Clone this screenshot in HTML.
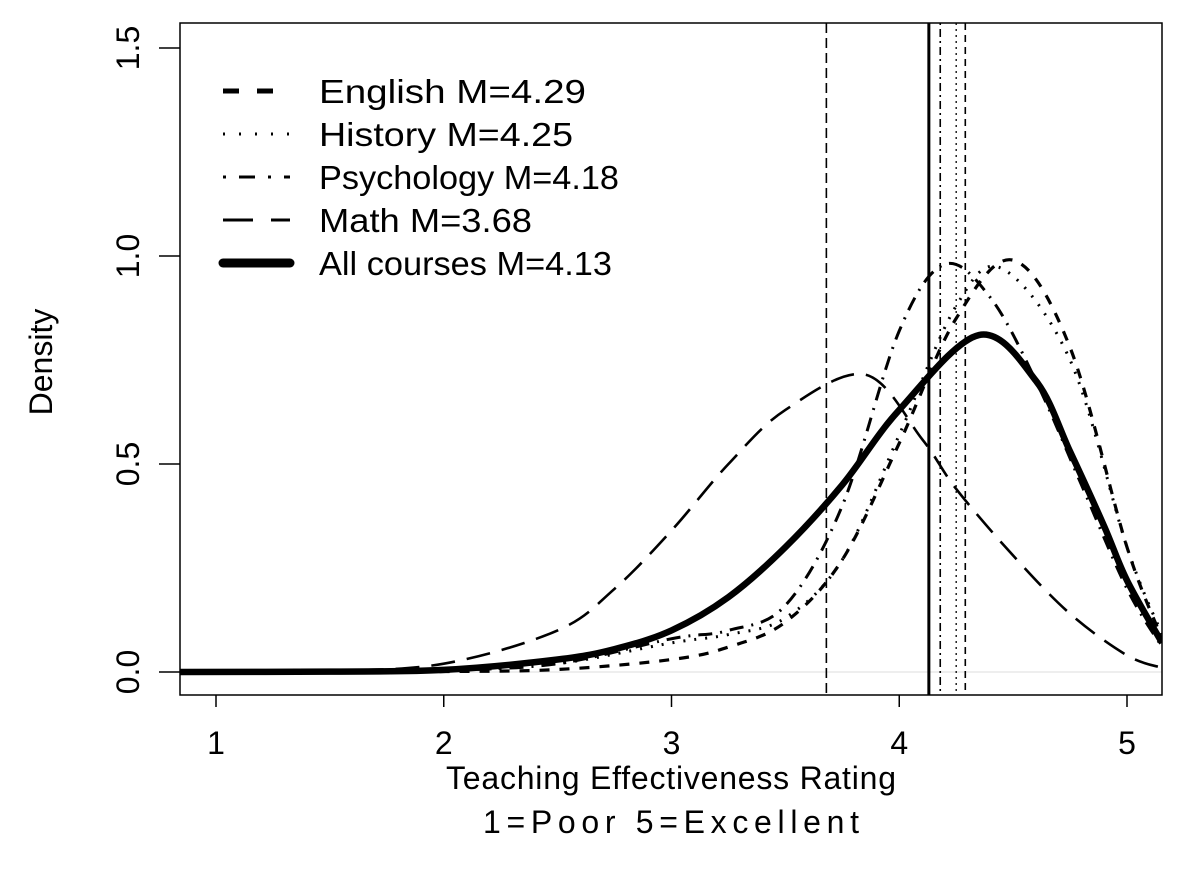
<!DOCTYPE html>
<html><head><meta charset="utf-8"><style>body{margin:0;background:#fff}svg{display:block;font-family:"Liberation Sans",sans-serif}</style></head>
<body>
<svg id="c" width="1188" height="884"></svg>
<script>
const seriesNames=["English M=4.29","History M=4.25","Psychology M=4.18","Math M=3.68","All courses M=4.13"];
const means=[4.29,4.25,4.18,3.68,4.13];
const englishX=[0.84,1.5,2,2.5,3,3.25,3.5,3.75,4.0,4.25,4.5,4.75,5.0,5.154];
const englishY=[0,0,0.001,0.006,0.03,0.06,0.12,0.27,0.55,0.85,0.99,0.78,0.3,0.08];
const historyX=[0.84,1.5,2,2.5,3,3.25,3.5,3.75,4.0,4.25,4.45,4.75,5.0,5.154];
const historyY=[0,0.001,0.004,0.02,0.07,0.09,0.13,0.27,0.57,0.88,0.97,0.75,0.3,0.09];
const psychX=[0.84,1.5,2,2.5,3,3.25,3.5,3.75,4.0,4.2,4.4,4.6,4.8,5.0,5.154];
const psychY=[0,0.001,0.004,0.02,0.08,0.1,0.16,0.4,0.82,0.98,0.9,0.7,0.45,0.2,0.06];
const mathX=[0.84,1.5,2,2.5,2.75,3,3.25,3.5,3.85,4.1,4.25,4.5,4.75,5.0,5.154];
const mathY=[0,0.003,0.02,0.1,0.2,0.34,0.5,0.63,0.715,0.56,0.44,0.28,0.14,0.04,0.01];
const allX=[0.84,1.5,2,2.5,2.75,3,3.25,3.5,3.75,4.0,4.35,4.6,4.75,4.9,5.0,5.154];
const allY=[0,0.001,0.005,0.03,0.055,0.1,0.18,0.3,0.45,0.63,0.81,0.7,0.53,0.35,0.22,0.07];
const xTicks=[1,2,3,4,5];
const yTicks=["0.0","0.5","1.0","1.5"];

const svg=document.getElementById('c');
const NS='http://www.w3.org/2000/svg';
const L=180,R=1162,T=23,B=695;
const sx=v=>216+(v-1)*227.75;
const sy=v=>672-v*416;
function el(t,a){const e=document.createElementNS(NS,t);for(const k in a)e.setAttribute(k,a[k]);svg.appendChild(e);return e;}
const styles=[{w:3.2,d:"10 10"},{w:3,d:"2 9"},{w:3,d:"2 8 14 8"},{w:2.6,d:"24 12"},{w:6.5,d:""}];
const vstyles=[{w:1.6,d:"7 5"},{w:1.3,d:"2 4"},{w:1.6,d:"2 4 8 4"},{w:1.6,d:"10 5"},{w:3,d:""}];
const data=[[englishX,englishY],[historyX,historyY],[psychX,psychY],[mathX,mathY],[allX,allY]];
const clip=el('clipPath',{id:'cp'});const cr=document.createElementNS(NS,'rect');cr.setAttribute('x',L);cr.setAttribute('y',T);cr.setAttribute('width',R-L);cr.setAttribute('height',B-T);clip.appendChild(cr);
let z=el('line',{x1:L,x2:R,y1:sy(0),y2:sy(0),stroke:'#ddd','stroke-width':1});


means.forEach((m,i)=>{const ln=el('line',{x1:sx(m),x2:sx(m),y1:T,y2:B,stroke:'#000','stroke-width':vstyles[i].w,'stroke-dasharray':vstyles[i].d});

});
function path(xs,ys){const p=xs.map((x,i)=>[sx(x),sy(ys[i])]);let d='M'+p[0][0]+','+p[0][1];
for(let i=0;i<p.length-1;i++){const p0=p[Math.max(0,i-1)],p1=p[i],p2=p[i+1],p3=p[Math.min(p.length-1,i+2)];
d+=` C${p1[0]+(p2[0]-p0[0])/6},${p1[1]+(p2[1]-p0[1])/6} ${p2[0]-(p3[0]-p1[0])/6},${p2[1]-(p3[1]-p1[1])/6} ${p2[0]},${p2[1]}`;}return d;}
data.forEach((s,i)=>{const pe=el('path',{d:path(s[0],s[1]),fill:'none',stroke:'#000','stroke-width':styles[i].w,'stroke-dasharray':styles[i].d,'clip-path':'url(#cp)'});

});
const box=el('rect',{x:L,y:T,width:R-L,height:B-T,fill:'none',stroke:'#000','stroke-width':1.5});


xTicks.forEach(t=>{el('line',{x1:sx(t),x2:sx(t),y1:B,y2:B+12,stroke:'#000','stroke-width':1.5});
const tx=el('text',{x:sx(t),y:B+59,'text-anchor':'middle','font-size':32});tx.textContent=t;

});
yTicks.forEach(t=>{const y=sy(parseFloat(t));el('line',{x1:L-21,x2:L,y1:y,y2:y,stroke:'#000','stroke-width':1.5});
const tx=el('text',{x:0,y:0,'text-anchor':'middle','font-size':32,transform:`translate(139,${y}) rotate(-90)`});tx.textContent=t;

});
let t1=el('text',{x:671,y:789,'text-anchor':'middle','font-size':32,textLength:450});t1.textContent='Teaching Effectiveness Rating';


let t2=el('text',{x:671,y:833,'text-anchor':'middle','font-size':32,textLength:376});t2.textContent='1=Poor 5=Excellent';


let t3=el('text',{x:0,y:0,'text-anchor':'middle','font-size':32,transform:'translate(52,362) rotate(-90)'});t3.textContent='Density';


const lst=[{w:5,d:"16 18"},{w:3,d:"2 14"},{w:3,d:"3 13 16 13"},{w:3,d:"30 18"},{w:9,d:""}];
const legendW=[267,254,300,213,293];
seriesNames.forEach((n,i)=>{const y=91+i*43;
const ln=el('line',{x1:223,x2:290,y1:y,y2:y,stroke:'#000','stroke-width':lst[i].w,'stroke-dasharray':lst[i].d,'stroke-linecap':i==4?'round':'butt'});


const tx=el('text',{x:319,y:y+12,'font-size':33,textLength:legendW[i],lengthAdjust:'spacingAndGlyphs'});tx.textContent=n;

});
</script>
</body></html>
